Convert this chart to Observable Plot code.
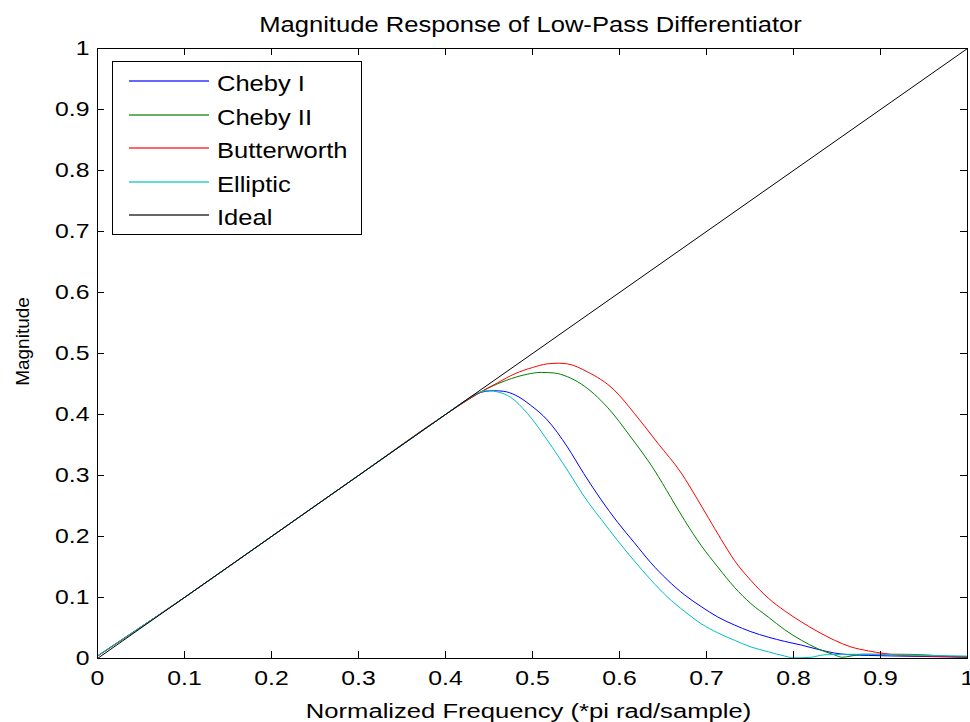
<!DOCTYPE html>
<html>
<head>
<meta charset="utf-8">
<script src="https://cdn.jsdelivr.net/npm/d3@7"></script>
<script src="https://cdn.jsdelivr.net/npm/@observablehq/plot@0.6"></script>
<style>
  html, body { margin: 0; padding: 0; background: #fff; }
  #wrap { position: relative; width: 970px; height: 722px; font-family: "Liberation Sans", Arial, sans-serif; color: #000; }
  #legend { position: absolute; left: 112px; top: 61px; width: 250px; height: 174px; border: 1px solid #000; background: #fff; box-sizing: border-box; }
  .lg-line { position: absolute; left: 16px; width: 80px; height: 2px; opacity: 0.6; }
  .lg-text { position: absolute; left: 104px; font-size: 22px; line-height: 22px; white-space: nowrap; transform: scaleX(1.16); transform-origin: left center; }
</style>
</head>
<body>
<div id="wrap"></div>
<script>
// ---------- data ----------
const titleText = "Magnitude Response of Low-Pass Differentiator";
const xLabelText = "Normalized Frequency (*pi rad/sample)";
const yLabelText = "Magnitude";

const seriesNames = ["Cheby I", "Cheby II", "Butterworth", "Elliptic", "Ideal"];
const seriesColors = ["#0000ff", "#008000", "#ff0000", "#00bfbf", "#000000"];

const xTicks = [0, 0.1, 0.2, 0.3, 0.4, 0.5, 0.6, 0.7, 0.8, 0.9, 1];
const xTickLabels = ["0", "0.1", "0.2", "0.3", "0.4", "0.5", "0.6", "0.7", "0.8", "0.9", "1"];
const yTicks = [0, 0.1, 0.2, 0.3, 0.4, 0.5, 0.6, 0.7, 0.8, 0.9, 1];
const yTickLabels = ["0", "0.1", "0.2", "0.3", "0.4", "0.5", "0.6", "0.7", "0.8", "0.9", "1"];

const chebyIX = [0, 0.1, 0.2, 0.3, 0.4, 0.42, 0.44, 0.455, 0.467, 0.48, 0.498, 0.517, 0.54, 0.559, 0.579, 0.598, 0.617, 0.636, 0.655, 0.675, 0.694, 0.713, 0.732, 0.751, 0.771, 0.79, 0.809, 0.828, 0.847, 0.866, 0.886, 0.92, 0.96, 1.0];
const chebyIY = [0.004, 0.1, 0.2, 0.3, 0.4, 0.42, 0.436, 0.439, 0.438, 0.432, 0.415, 0.391, 0.347, 0.303, 0.26, 0.223, 0.19, 0.157, 0.129, 0.104, 0.085, 0.068, 0.055, 0.044, 0.035, 0.028, 0.022, 0.015, 0.009, 0.006, 0.005, 0.004, 0.003, 0.002];

const chebyIIX = [0, 0.1, 0.2, 0.3, 0.4, 0.43, 0.45, 0.47, 0.494, 0.51, 0.525, 0.54, 0.556, 0.586, 0.613, 0.64, 0.659, 0.675, 0.694, 0.713, 0.732, 0.751, 0.771, 0.79, 0.809, 0.828, 0.847, 0.856, 0.866, 0.88, 0.92, 0.95, 0.97, 1.0];
const chebyIIY = [0.004, 0.1, 0.2, 0.3, 0.4, 0.428, 0.444, 0.456, 0.466, 0.469, 0.468, 0.462, 0.45, 0.412, 0.363, 0.309, 0.264, 0.226, 0.185, 0.15, 0.117, 0.09, 0.068, 0.047, 0.03, 0.016, 0.006, 0.002, 0.004, 0.007, 0.007, 0.006, 0.004, 0.002];

const butterX = [0, 0.1, 0.2, 0.3, 0.4, 0.437, 0.46, 0.48, 0.5, 0.517, 0.53, 0.54, 0.563, 0.594, 0.617, 0.644, 0.671, 0.69, 0.702, 0.717, 0.732, 0.751, 0.771, 0.79, 0.809, 0.828, 0.847, 0.866, 0.886, 0.905, 0.924, 0.95, 1.0];
const butterY = [0.004, 0.1, 0.2, 0.3, 0.4, 0.434, 0.452, 0.467, 0.477, 0.483, 0.484, 0.483, 0.47, 0.44, 0.402, 0.353, 0.304, 0.26, 0.231, 0.195, 0.161, 0.128, 0.099, 0.078, 0.06, 0.044, 0.03, 0.019, 0.0125, 0.008, 0.005, 0.004, 0.003];

const ellipX = [0, 0.1, 0.2, 0.3, 0.4, 0.42, 0.44, 0.45, 0.46, 0.475, 0.494, 0.517, 0.54, 0.563, 0.579, 0.598, 0.617, 0.636, 0.655, 0.675, 0.694, 0.713, 0.732, 0.751, 0.771, 0.79, 0.80, 0.82, 0.835, 0.87, 0.92, 0.96, 1.0];
const ellipY = [0.004, 0.1, 0.2, 0.3, 0.4, 0.42, 0.437, 0.439, 0.437, 0.428, 0.402, 0.358, 0.309, 0.258, 0.228, 0.193, 0.16, 0.129, 0.101, 0.077, 0.057, 0.042, 0.030, 0.019, 0.011, 0.004, 0.001, 0.002, 0.006, 0.007, 0.006, 0.005, 0.004];

const idealX = [0, 1];
const idealY = [0, 1];

// ---------- build ----------
const seriesXs = [chebyIX, chebyIIX, butterX, ellipX, idealX];
const seriesYs = [chebyIY, chebyIIY, butterY, ellipY, idealY];
const series = seriesNames.map((name, k) => ({
  name, color: seriesColors[k],
  rows: seriesXs[k].map((x, i) => ({x, y: seriesYs[k][i]}))
}));

const W = 970, H = 722, mL = 97, mR = 3, mT = 48, mB = 64;
const plotW = W - mL - mR, plotH = H - mT - mB;
const tickLen = 7;
const xLabelMap = new Map(xTicks.map((t, i) => [t, xTickLabels[i]]));
const yLabelMap = new Map(yTicks.map((t, i) => [t, yTickLabels[i]]));

const chart = Plot.plot({
  width: W, height: H,
  marginLeft: mL, marginRight: mR, marginTop: mT, marginBottom: mB,
  style: {fontFamily: '"Liberation Sans", Arial, sans-serif', fontSize: "20px", color: "#000", background: "#fff", overflow: "visible"},
  x: {domain: [0, 1], ticks: xTicks, tickFormat: d => xLabelMap.get(d), tickSize: 0, tickPadding: 12, label: null},
  y: {domain: [0, 1], ticks: yTicks, tickFormat: d => yLabelMap.get(d), tickSize: 0, tickPadding: 8, label: null},
  marks: [
    ...series.map(s => Plot.line(s.rows, {x: "x", y: "y", stroke: s.color, strokeWidth: 1, curve: "monotone-x"})),
    Plot.frame({stroke: "#000", strokeWidth: 1}),
    Plot.ruleX(xTicks, {x: d => d, insetTop: plotH - tickLen, stroke: "#000"}),
    Plot.ruleX(xTicks, {x: d => d, insetBottom: plotH - tickLen, stroke: "#000"}),
    Plot.ruleY(yTicks, {y: d => d, insetRight: plotW - tickLen, stroke: "#000"}),
    Plot.ruleY(yTicks, {y: d => d, insetLeft: plotW - tickLen, stroke: "#000"}),
    Plot.text([titleText], {text: d => d, frameAnchor: "top", dy: -17, dx: -2, lineAnchor: "bottom", textAnchor: "middle", fontSize: 21.5}),
    Plot.text([xLabelText], {text: d => d, frameAnchor: "bottom", dy: 59, dx: -4, lineAnchor: "bottom", textAnchor: "middle", fontSize: 21}),
    Plot.text([yLabelText], {text: d => d, frameAnchor: "left", dx: -69, dy: -12, rotate: -90, lineAnchor: "bottom", textAnchor: "middle", fontSize: 19})
  ]
});

const wrap = document.getElementById("wrap");
wrap.appendChild(chart);

// stretch text horizontally like the reference rendering
chart.querySelectorAll("text").forEach(el => {
  const txt = el.textContent;
  if (txt === yLabelText) { el.style.fontSize = "19px"; return; }
  const s = txt === titleText ? 1.19 : txt === xLabelText ? 1.22 : 1.24;
  const bb = el.getBBox();
  const anchor = getComputedStyle(el).textAnchor;
  const ax = anchor === "middle" ? bb.x + bb.width / 2 : anchor === "end" ? bb.x + bb.width : bb.x;
  const tr = el.getAttribute("transform") || "";
  el.setAttribute("transform", `${tr} translate(${ax},0) scale(${s},1) translate(${-ax},0)`);
});

// legend
const legend = document.createElement("div");
legend.id = "legend";
seriesNames.forEach((name, i) => {
  const cy = 19 + i * 33.5;
  const line = document.createElement("div");
  line.className = "lg-line";
  line.style.top = (cy - 1) + "px";
  line.style.background = seriesColors[i];
  const text = document.createElement("div");
  text.className = "lg-text";
  text.style.top = (cy - 8) + "px";
  text.textContent = name;
  legend.appendChild(line);
  legend.appendChild(text);
});
wrap.appendChild(legend);
</script>
</body>
</html>
